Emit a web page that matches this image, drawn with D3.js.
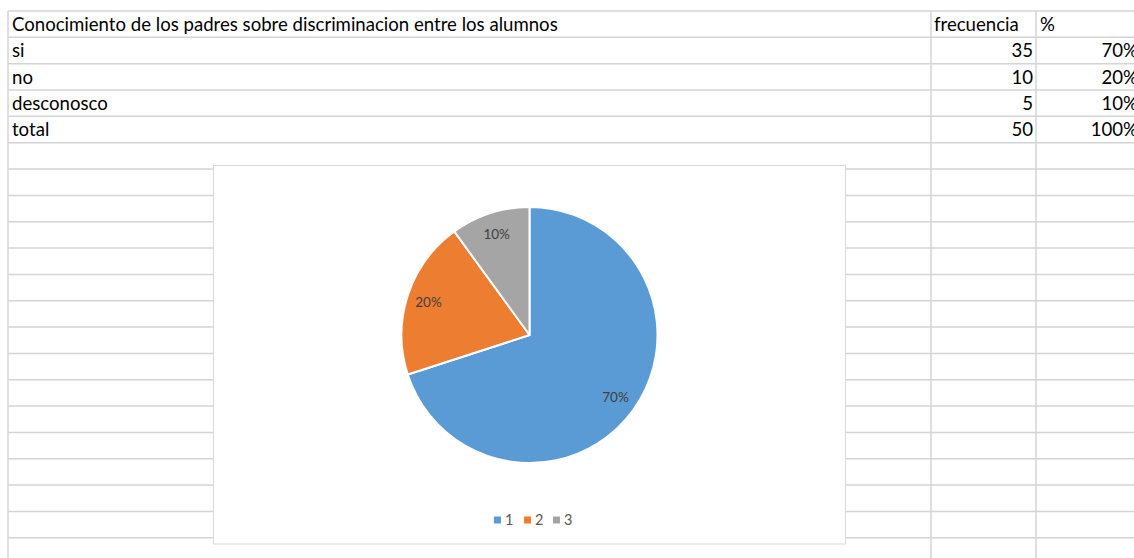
<!DOCTYPE html>
<html>
<head>
<meta charset="utf-8">
<script src="https://cdn.jsdelivr.net/npm/d3@7"></script>
<style>
  body { margin: 0; background: #fff; }
  svg { display: block; }
  text { font-family: Lato, "Open Sans", sans-serif; }
</style>
</head>
<body>
<svg width="1134" height="558"></svg>
<script>
// table data
var title = "Conocimiento de los padres sobre discriminacion entre los alumnos";
var headers = ["frecuencia", "%"];
var categories = ["si", "no", "desconosco"];
var frecuencia = [35, 10, 5];
var porcentaje = ["70%", "20%", "10%"];
var totalLabel = "total";
var totalFrec = 50;
var totalPct = "100%";
var legendLabels = ["1", "2", "3"];

var svg = d3.select("svg");
var width = +svg.attr("width");
var height = +svg.attr("height");

var gridColor = "#d4d4d4";
var rowTop = 11, rowH = 26.34, nRows = 21;
var colX = [8, 931, 1036];

// spreadsheet grid
var grid = svg.append("g");
d3.range(nRows).forEach(function(i) {
  var y = rowTop + i * rowH;
  grid.append("line")
    .attr("x1", colX[0]).attr("x2", width)
    .attr("y1", y).attr("y2", y)
    .attr("stroke", gridColor).attr("stroke-width", 1.5);
});
colX.forEach(function(x) {
  grid.append("line")
    .attr("x1", x).attr("x2", x)
    .attr("y1", rowTop).attr("y2", height)
    .attr("stroke", gridColor).attr("stroke-width", 1.5);
});

// cell text
var cells = svg.append("g").attr("font-size", 18.6).attr("fill", "#000");
function rowBase(i) { return rowTop + (i + 1) * rowH - 6.5; }

cells.append("text").attr("x", 12).attr("y", rowBase(0)).text(title);
cells.append("text").attr("x", 934).attr("y", rowBase(0)).text(headers[0]);
cells.append("text").attr("x", 1040).attr("y", rowBase(0)).text(headers[1]);

var rows = categories.map(function(c, i) {
  return { label: c, frec: frecuencia[i], pct: porcentaje[i] };
});
rows.push({ label: totalLabel, frec: totalFrec, pct: totalPct });

rows.forEach(function(r, i) {
  var y = rowBase(i + 1);
  cells.append("text").attr("x", 12).attr("y", y).text(r.label);
  cells.append("text").attr("x", 1033).attr("y", y).attr("text-anchor", "end").text(r.frec);
  cells.append("text").attr("x", 1138).attr("y", y).attr("text-anchor", "end").text(r.pct);
});

// chart box
var box = { x: 213.5, y: 165.5, w: 632, h: 378.5 };
svg.append("rect")
  .attr("x", box.x).attr("y", box.y)
  .attr("width", box.w).attr("height", box.h)
  .attr("fill", "#fff").attr("stroke", "#d9d9d9").attr("stroke-width", 1);

var color = d3.scaleOrdinal()
  .domain(legendLabels)
  .range(["#5b9bd5", "#ed7d31", "#a5a5a5"]);

var cx = 529.5, cy = 335, radius = 128;
var pie = d3.pie().sort(null).value(function(d) { return d; });
var arc = d3.arc().innerRadius(0).outerRadius(radius);
var labelArc = d3.arc().innerRadius(radius * 0.83).outerRadius(radius * 0.83);

var arcs = pie(frecuencia);
var pg = svg.append("g").attr("transform", "translate(" + cx + "," + cy + ")");

pg.selectAll("path")
  .data(arcs)
  .enter().append("path")
  .attr("d", arc)
  .attr("fill", function(d, i) { return color(legendLabels[i]); })
  .attr("stroke", "#fff")
  .attr("stroke-width", 2)
  .attr("stroke-linejoin", "round");

pg.selectAll("text")
  .data(arcs)
  .enter().append("text")
  .attr("transform", function(d) { return "translate(" + labelArc.centroid(d) + ")"; })
  .attr("text-anchor", "middle")
  .attr("dy", "0.35em")
  .attr("font-size", 13.5)
  .attr("fill", "#404040")
  .text(function(d, i) { return porcentaje[i]; });

// legend
var legendX = [494, 524, 553];
var legend = svg.append("g");
legendLabels.forEach(function(l, i) {
  var g = legend.append("g").attr("transform", "translate(" + legendX[i] + ",520)");
  g.append("rect").attr("x", 0).attr("y", -3.5).attr("width", 7).attr("height", 7)
    .attr("fill", color(l));
  g.append("text").attr("x", 11).attr("y", 0).attr("dy", "0.36em")
    .attr("font-size", 14.5).attr("fill", "#595959").text(l);
});
</script>
</body>
</html>
